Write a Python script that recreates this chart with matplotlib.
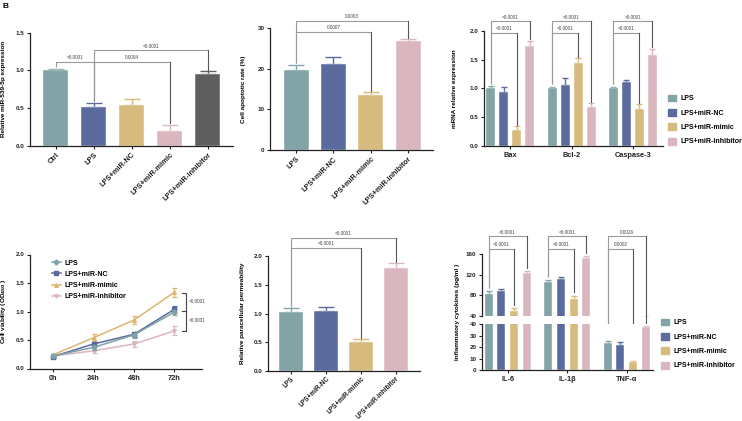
import numpy as np
import matplotlib
matplotlib.use("Agg")
import matplotlib.pyplot as plt
from matplotlib.patches import Patch
from matplotlib.lines import Line2D

plt.rcParams['font.family'] = ['Liberation Sans', 'DejaVu Sans']
plt.rcParams['font.weight'] = 'bold'
plt.rcParams['axes.labelweight'] = 'bold'

# palette
TEAL = '#82a4a7'
BLUE = '#5b6b9e'
GOLD = '#d7ba7e'
PINK = '#dab7bf'
GREY = '#5f5f5f'

groups = ['LPS', 'LPS+miR-NC', 'LPS+miR-mimic', 'LPS+miR-inhibitor']
group_colors = [TEAL, BLUE, GOLD, PINK]

# A: miR-539-5p expression
a_labels = ['Ctrl', 'LPS', 'LPS+miR-NC', 'LPS+miR-mimic', 'LPS+miR-inhibitor']
a_mean = [1.00, 0.52, 0.54, 0.19, 0.95]
a_err = [0.02, 0.05, 0.08, 0.09, 0.04]

# B: apoptotic rate
b_mean = [19.7, 21.1, 13.5, 26.7]
b_err = [1.3, 1.7, 0.8, 0.6]

# C: mRNA expression
c_genes = ['Bax', 'Bcl-2', 'Caspase-3']
c_mean = [[1.01, 1.00, 1.00],
          [0.93, 1.06, 1.11],
          [0.27, 1.44, 0.64],
          [1.74, 0.67, 1.57]]
c_err = [[0.03, 0.03, 0.03],
         [0.10, 0.12, 0.03],
         [0.07, 0.08, 0.08],
         [0.09, 0.07, 0.12]]

# D: cell viability
d_times = ['0h', '24h', '48h', '72h']
d_mean = [[0.22, 0.37, 0.59, 0.99],
          [0.21, 0.43, 0.60, 1.04],
          [0.24, 0.54, 0.85, 1.34],
          [0.22, 0.31, 0.43, 0.66]]
d_err = [[0.03, 0.04, 0.05, 0.06],
         [0.03, 0.03, 0.04, 0.06],
         [0.02, 0.06, 0.07, 0.08],
         [0.02, 0.03, 0.05, 0.08]]
d_line_colors = ['#7fa3a6', '#5a6a9d', '#dcb66f', '#dbb6c1']
d_markers = ['D', 's', '^', 'v']

# E: paracellular permeability
e_mean = [1.03, 1.05, 0.50, 1.79]
e_err = [0.06, 0.07, 0.05, 0.08]

# F: cytokines
f_cats = ['IL-6', 'IL-1\u03b2', 'TNF-\u03b1']
f_mean = [[82.8, 106.7, 23.7],
          [88.6, 111.4, 22.3],
          [50.3, 72.5, 7.0],
          [123.0, 152.0, 37.6]]
f_err = [[5, 3, 2],
         [3, 4, 2],
         [5, 7, 1],
         [4.5, 5, 1]]

fig = plt.figure(figsize=(7.42, 4.21), dpi=100)


def axes_px(l, t, r, b):
    return fig.add_axes([l / 742, 1 - b / 421, (r - l) / 742, (b - t) / 421])


def style(ax):
    for s in ['top', 'right']:
        ax.spines[s].set_visible(False)
    for s in ['left', 'bottom']:
        ax.spines[s].set_linewidth(0.9)
        ax.spines[s].set_color('#222222')
    ax.tick_params(length=2.5, width=0.8, labelsize=4.5, pad=1.5, colors='#222222')


def bars(ax, x, mean, err, colors, width, capsize):
    ax.bar(x, mean, width=width, color=colors, edgecolor='white', linewidth=0.3, zorder=2)
    for xi, m, e, c in zip(x, mean, err, colors):
        ax.errorbar(xi, m, yerr=[[0], [e]], fmt='none', ecolor=c, elinewidth=1.0,
                    capsize=capsize, capthick=1.0, zorder=1)


def bracket(ax, x1, x2, y, y1, y2, text, fs=3.4):
    ax.plot([x1, x1, x2], [y1, y, y], color='#9a9a9a', lw=0.8, clip_on=False,
            solid_capstyle='butt', zorder=3)
    ax.plot([x2, x2], [y, y2], color='#555555', lw=0.8, clip_on=False, zorder=3)
    ax.annotate(text, ((x1 + x2) / 2, y), xytext=(0, 1.2), textcoords='offset points',
                ha='center', va='bottom', fontsize=fs, fontweight='normal', color='#444444',
                annotation_clip=False)


def rot_labels(ax, labels, fs=5.3):
    ax.set_xticklabels(labels, rotation=45, ha='right', va='top',
                       rotation_mode='anchor', fontsize=fs)


# ---------------- A ----------------
axA = axes_px(30, 32.7, 233, 145.7)
style(axA)
xa = np.arange(len(a_labels))
bars(axA, xa, a_mean, a_err, [TEAL, BLUE, GOLD, PINK, GREY], 0.66, 6)
axA.set_xlim(-0.68, 4.66)
axA.set_ylim(0, 1.5)
axA.set_yticks([0, 0.5, 1.0, 1.5])
axA.set_xticks(xa)
rot_labels(axA, a_labels)
axA.set_ylabel('Relative miR-539-5p expression', fontsize=4.6)
axA.yaxis.set_label_coords(-0.118, 0.5)
bracket(axA, 0, 1, 1.115, 1.05, 0.60, '<0.0001')
bracket(axA, 1, 3, 1.115, 0.60, 0.30, '0.0004')
bracket(axA, 1, 4, 1.265, 0.60, 1.00, '<0.0001')

# ---------------- B ----------------
axB = axes_px(270, 28, 433, 150)
style(axB)
xb = np.arange(len(groups))
bars(axB, xb, b_mean, b_err, group_colors, 0.67, 6)
axB.set_xlim(-0.70, 3.67)
axB.set_ylim(0, 30)
axB.set_yticks([0, 10, 20, 30])
axB.set_xticks(xb)
rot_labels(axB, groups)
axB.set_ylabel('Cell apoptotic rate (%)', fontsize=4.6)
axB.yaxis.set_label_coords(-0.147, 0.5)
bracket(axB, 0, 2, 29.0, 21.4, 14.6, '0.0007')
bracket(axB, 0, 3, 31.8, 21.4, 27.6, '0.0003')

# ---------------- C ----------------
axC = axes_px(484, 30.7, 663, 146)
style(axC)
xc = np.arange(len(c_genes))
step = 0.212
for i in range(4):
    pos = xc + (i - 1.5) * step
    bars(axC, pos, c_mean[i], c_err[i], [group_colors[i]] * 3, 0.147, 2.2)
axC.set_xlim(-0.43, 2.49)
axC.set_ylim(0, 2.0)
axC.set_yticks([0, 0.5, 1.0, 1.5, 2.0])
axC.set_xticks(xc)
axC.set_xticklabels(c_genes, fontsize=5.3)
axC.tick_params(axis='x', length=2, pad=2)
axC.set_ylabel('mRNA relative expression', fontsize=4.6)
axC.yaxis.set_label_coords(-0.153, 0.5)
c_leg_lps = [1.07, 1.07, 1.07]
c_leg_mimic = [0.37, 1.55, 0.75]
c_leg_inh = [1.86, 0.77, 1.72]
for g in range(3):
    x0 = xc[g] - 1.5 * step
    bracket(axC, x0, x0 + 2 * step, 1.96, c_leg_lps[g], c_leg_mimic[g], '<0.0001')
    bracket(axC, x0, x0 + 3 * step, 2.16, c_leg_lps[g], c_leg_inh[g], '<0.0001')
axC.legend(handles=[Patch(color=c) for c in group_colors], labels=groups,
           loc='center left', bbox_to_anchor=(665 / 742, 1 - 120 / 421),
           bbox_transform=fig.transFigure, frameon=False, fontsize=5,
           handlelength=1.15, handleheight=1.15, handletextpad=0.6,
           labelspacing=0.95, borderpad=0)

# ---------------- D ----------------
axD = axes_px(30, 254.5, 202, 368.5)
style(axD)
xd = np.arange(len(d_times))
for i in range(4):
    axD.errorbar(xd, d_mean[i], yerr=d_err[i], color=d_line_colors[i], lw=1.1,
                 marker=d_markers[i], markersize=2.6, elinewidth=0.9, capsize=1.8,
                 capthick=0.9, zorder=3 - i * 0.1)
axD.set_xlim(-0.57, 3.68)
axD.set_ylim(0, 2.0)
axD.set_yticks([0, 0.5, 1.0, 1.5, 2.0])
axD.set_xticks(xd)
axD.set_xticklabels(d_times, fontsize=5.3)
axD.tick_params(axis='x', length=2.5, pad=2)
axD.set_ylabel('Cell viability (OD$_{\\mathbf{450}}$ )', fontsize=4.6)
axD.yaxis.set_label_coords(-0.13, 0.5)
axD.legend(handles=[Line2D([0], [0], color=c, marker=m, markersize=2.6, lw=1.1)
                    for c, m in zip(d_line_colors, d_markers)],
           labels=groups, loc='upper left', bbox_to_anchor=(0.105, 0.985),
           frameon=False, fontsize=5, handlelength=1.3, handletextpad=0.6,
           labelspacing=0.6, borderpad=0)
# significance bracket at 72h
bx0, bx1 = 3.19, 3.29
d_tips = [d_mean[2][3] - 0.02, (d_mean[0][3] + d_mean[1][3]) / 2, d_mean[3][3]]
axD.plot([bx0, bx1, bx1, bx0], [d_tips[0], d_tips[0], d_tips[1], d_tips[1]],
         color='#444444', lw=0.8, clip_on=False)
axD.plot([bx1, bx1, bx0], [d_tips[1], d_tips[2], d_tips[2]],
         color='#444444', lw=0.8, clip_on=False)
axD.text(3.36, (d_tips[0] + d_tips[1]) / 2, '<0.0001', fontsize=3.4, fontweight='normal',
         color='#444444', va='center', ha='left')
axD.text(3.36, (d_tips[1] + d_tips[2]) / 2, '<0.0001', fontsize=3.4, fontweight='normal',
         color='#444444', va='center', ha='left')

# ---------------- E ----------------
axE = axes_px(268, 256, 420, 371)
style(axE)
xe = np.arange(len(groups))
bars(axE, xe, e_mean, e_err, group_colors, 0.67, 6)
axE.set_xlim(-0.66, 3.69)
axE.set_ylim(0, 2.0)
axE.set_yticks([0, 0.5, 1.0, 1.5, 2.0])
axE.set_xticks(xe)
rot_labels(axE, groups, fs=4.7)
axE.tick_params(axis='x', pad=0.5)
axE.set_ylabel('Relative paracellular permeability', fontsize=4.6)
axE.yaxis.set_label_coords(-0.151, 0.5)
bracket(axE, 0, 2, 2.14, 1.12, 0.58, '<0.0001')
bracket(axE, 0, 3, 2.32, 1.12, 1.90, '<0.0001')

# ---------------- F (broken axis) ----------------
axFt = axes_px(482, 254.3, 653, 316)
axFb = axes_px(482, 324.3, 653, 370)
xf = np.arange(len(f_cats))
stepf = 0.213
for ax in (axFt, axFb):
    style(ax)
    for i in range(4):
        pos = xf + (i - 1.5) * stepf
        bars(ax, pos, f_mean[i], f_err[i], [group_colors[i]] * 3, 0.134, 2.2)
    ax.set_xlim(-0.43, 2.44)
axFt.set_ylim(40, 160)
axFt.set_yticks([40, 80, 120, 160])
axFt.spines['bottom'].set_visible(False)
axFt.tick_params(axis='x', bottom=False, labelbottom=False)
axFb.set_ylim(0, 40)
axFb.set_yticks([0, 10, 20, 30, 40])
axFb.set_xticks(xf)
axFb.set_xticklabels(f_cats, fontsize=5.3)
axFb.tick_params(axis='x', length=2, pad=2)
fig.text(457 / 742, 1 - 312 / 421, 'Inflammatory cytokines (pg/ml )', rotation=90,
         ha='center', va='center', fontsize=4.6, fontweight='bold')


def to_top(y):
    return axFt.transData.inverted().transform(axFb.transData.transform((0, y)))[1]


f_leg_lps = [94, 116, to_top(27.5)]
f_leg_mimic = [61, 86, to_top(9.0)]
f_leg_inh = [133, 162, to_top(40.5)]
f_inner = ['<0.0001', '<0.0001', '0.0002']
f_outer = ['<0.0001', '<0.0001', '0.0026']
for g in range(3):
    x0 = xf[g] - 1.5 * stepf
    bracket(axFt, x0, x0 + 2 * stepf, 171, f_leg_lps[g], f_leg_mimic[g], f_inner[g])
    bracket(axFt, x0, x0 + 3 * stepf, 195, f_leg_lps[g], f_leg_inh[g], f_outer[g])
axFb.legend(handles=[Patch(color=c) for c in group_colors], labels=groups,
            loc='center left', bbox_to_anchor=(658 / 742, 1 - 344 / 421),
            bbox_transform=fig.transFigure, frameon=False, fontsize=5,
            handlelength=1.15, handleheight=1.15, handletextpad=0.6,
            labelspacing=0.95, borderpad=0)

fig.text(0.004, 0.992, 'B', fontsize=6, fontweight='bold', va='top', ha='left')

fig.savefig('out.png', dpi=100)
